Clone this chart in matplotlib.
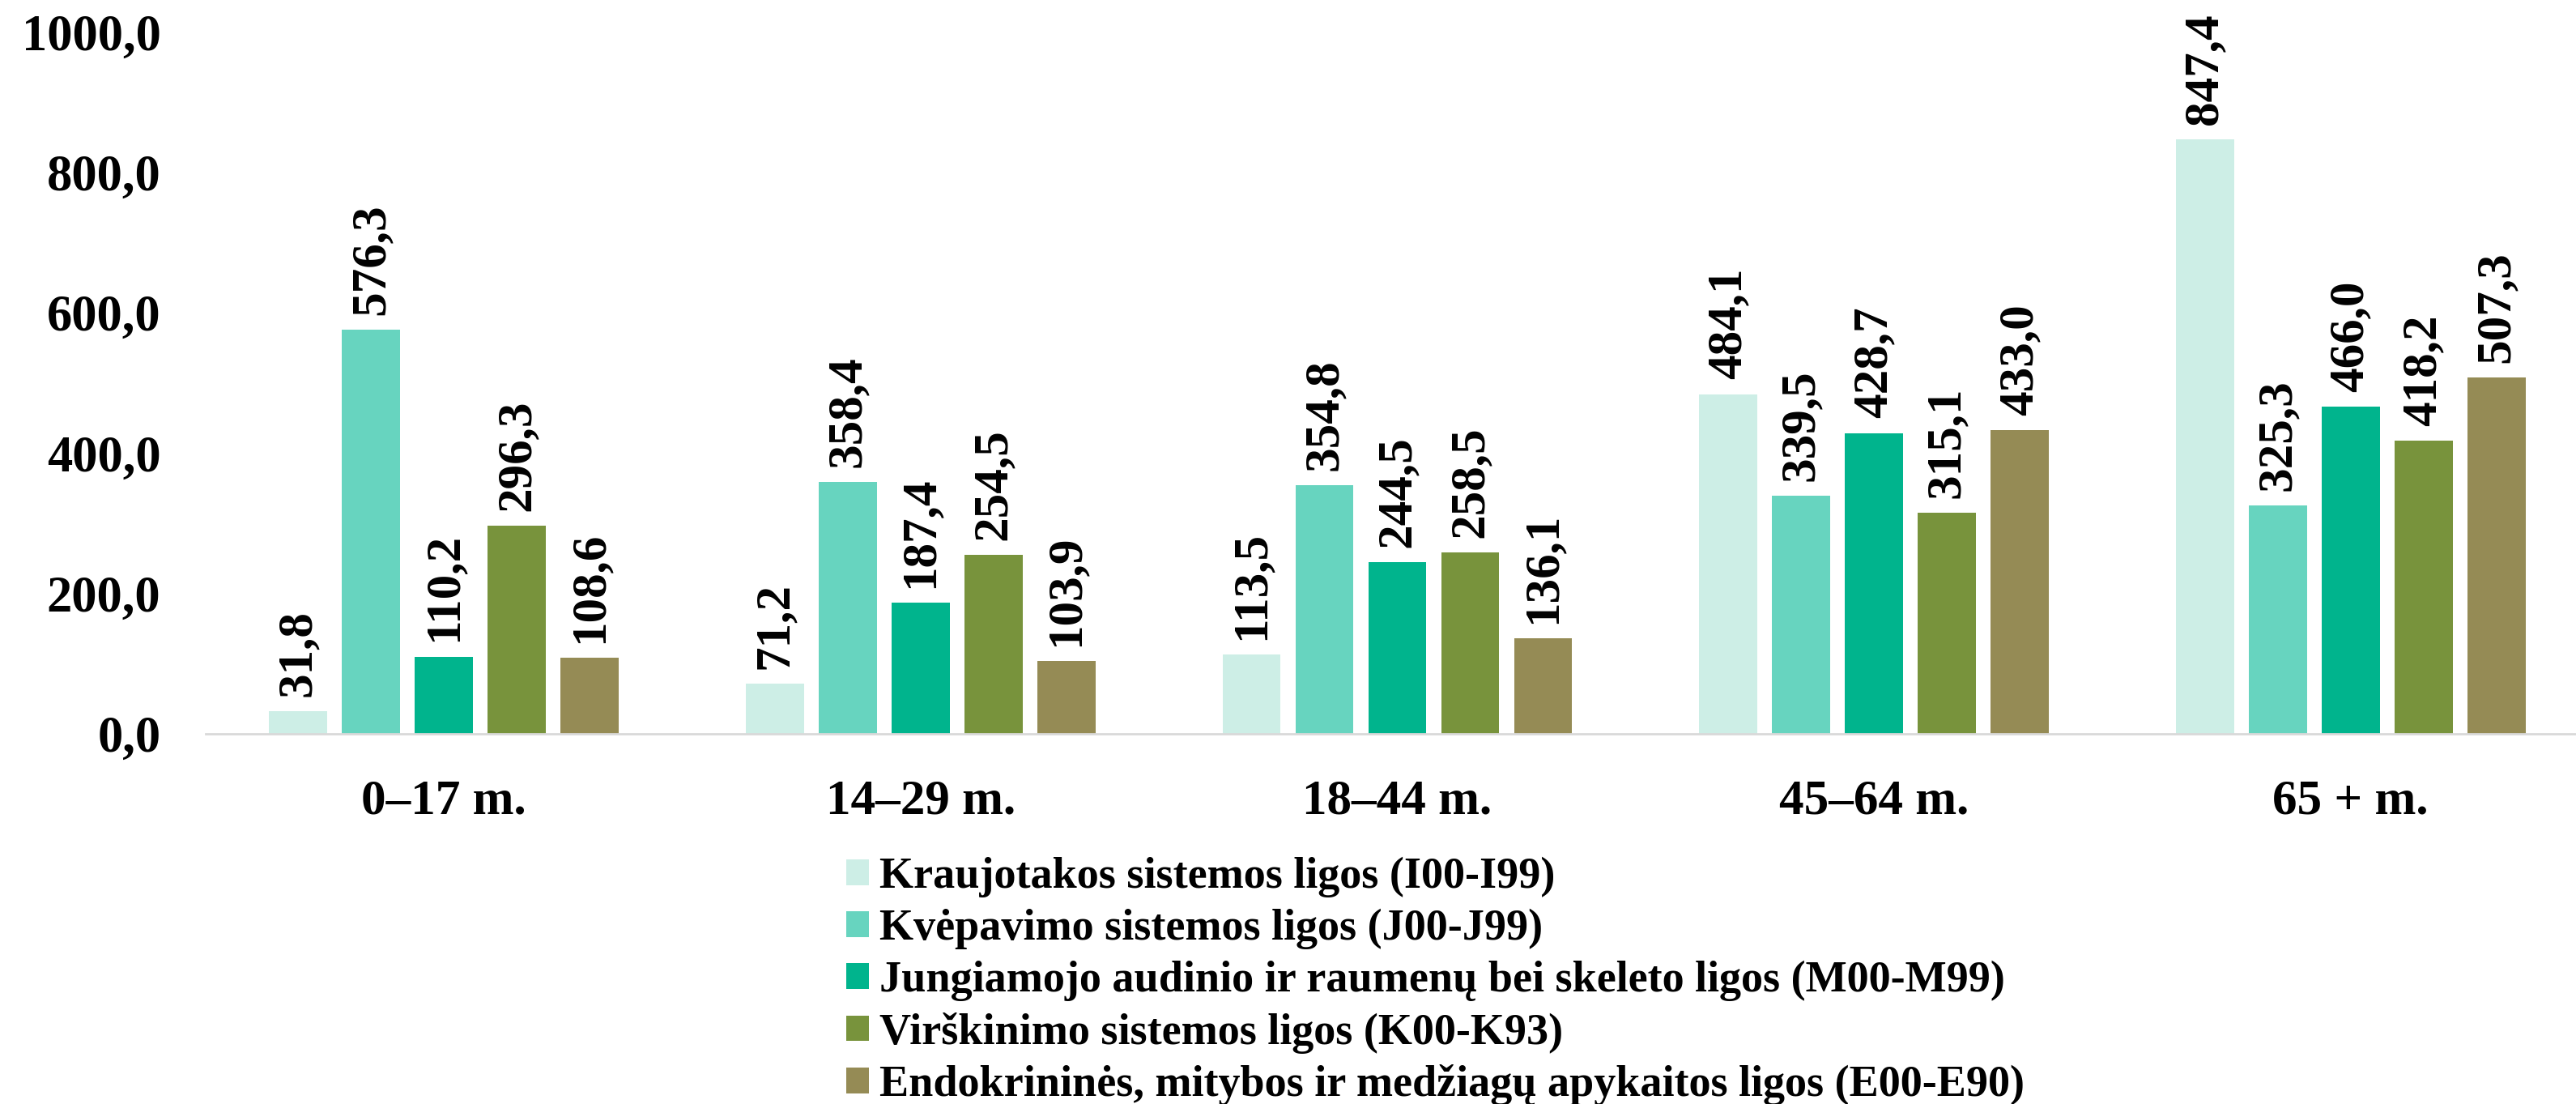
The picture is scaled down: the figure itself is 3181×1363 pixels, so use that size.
import numpy as np
import matplotlib.pyplot as plt

plt.rcParams['font.family'] = ['Liberation Serif', 'DejaVu Serif']
plt.rcParams['font.weight'] = 'bold'

groups = ['0–17 m.', '14–29 m.', '18–44 m.', '45–64 m.', '65 + m.']
series = [
    'Kraujotakos sistemos ligos (I00-I99)',
    'Kvėpavimo sistemos ligos (J00-J99)',
    'Jungiamojo audinio ir raumenų bei skeleto ligos (M00-M99)',
    'Virškinimo sistemos ligos (K00-K93)',
    'Endokrininės, mitybos ir medžiagų apykaitos ligos (E00-E90)',
]
kraujotakos = [31.8, 71.2, 113.5, 484.1, 847.4]
kvepavimo = [576.3, 358.4, 354.8, 339.5, 325.3]
jungiamojo = [110.2, 187.4, 244.5, 428.7, 466.0]
virskinimo = [296.3, 254.5, 258.5, 315.1, 418.2]
endokrinines = [108.6, 103.9, 136.1, 433.0, 507.3]
values = [kraujotakos, kvepavimo, jungiamojo, virskinimo, endokrinines]
colors = ['#CDEEE6', '#67D4BF', '#00B48D', '#78933C', '#958B55']
yticks = [0, 200, 400, 600, 800, 1000]

fig = plt.figure(figsize=(31.81, 13.63), dpi=100)
ax = fig.add_axes([254 / 3181, 1 - 906 / 1363, 2943 / 3181, 866.5 / 1363])

x = np.arange(len(groups))
pitch = 0.1529
width = 0.1223
for i, (name, vals, col) in enumerate(zip(series, values, colors)):
    pos = x + (i - 2) * pitch
    bars = ax.bar(pos, vals, width, color=col, label=name)
    for b, v in zip(bars, vals):
        ax.annotate(f'{v:.1f}'.replace('.', ','),
                    (b.get_x() + b.get_width() / 2, v),
                    xytext=(0, 13), textcoords='offset points',
                    rotation=90, ha='center', va='bottom',
                    fontsize=44, fontweight='bold')

ax.set_xlim(-0.5, len(groups) - 0.5)
ax.set_ylim(0, 1000)
ax.set_xticks(x)
ax.set_xticklabels(groups, fontsize=44, fontweight='bold')
ax.set_yticks(yticks)
ax.set_yticklabels([f'{t:.1f}'.replace('.', ',') for t in yticks],
                   fontsize=45, fontweight='bold')
ax.tick_params(axis='both', length=0)
ax.tick_params(axis='x', pad=40)
ax.tick_params(axis='y', pad=40)

for s in ['top', 'right', 'left']:
    ax.spines[s].set_visible(False)
ax.spines['bottom'].set_color('#D9D9D9')
ax.spines['bottom'].set_linewidth(2)

ax.legend(loc='upper left', bbox_to_anchor=(1045 / 3181, 1 - 1058 / 1363),
          bbox_transform=fig.transFigure, frameon=False,
          prop={'size': 39, 'weight': 'bold'},
          handlelength=0.52, handleheight=0.52, handletextpad=0.24,
          labelspacing=0.25, borderpad=0, borderaxespad=0)

fig.savefig('out.png', dpi=100)
